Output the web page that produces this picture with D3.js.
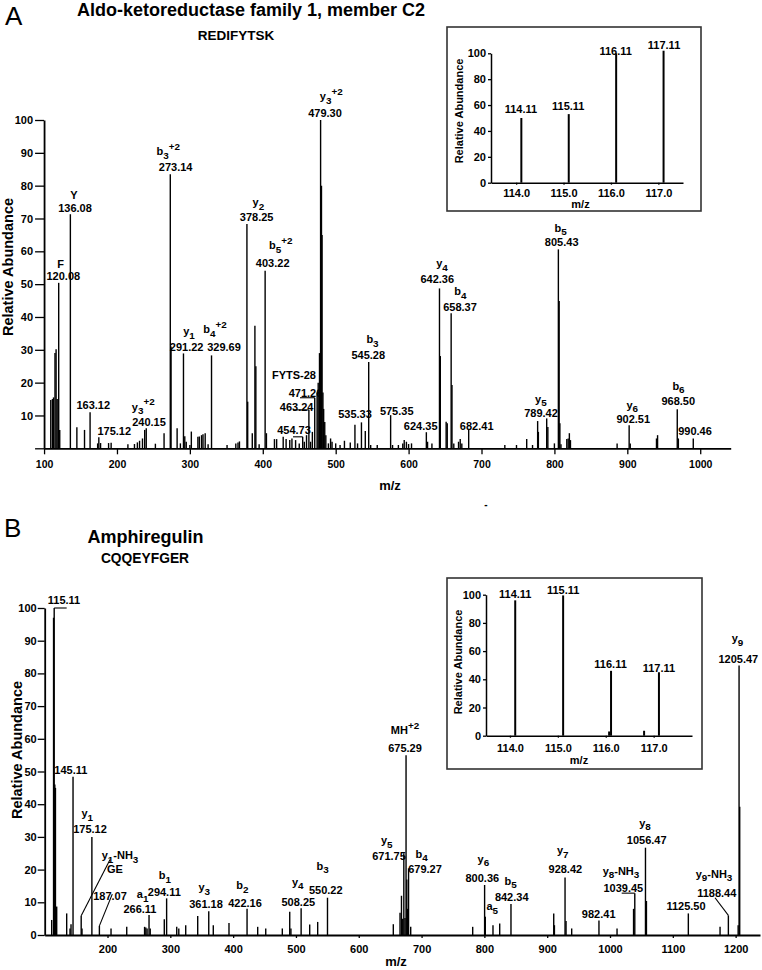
<!DOCTYPE html>
<html><head><meta charset="utf-8">
<script src="https://cdn.jsdelivr.net/npm/d3@7"></script>
<style>body{margin:0;background:#fff}svg{display:block}text{font-family:"Liberation Sans",Arial,Helvetica,sans-serif;}</style>
</head><body><svg id="c" width="762" height="970"></svg>
<script>
// ---------------- DATA ----------------
// Panel A: Aldo-ketoreductase family 1, member C2 (REDIFYTSK)
const topMz = [109.2,111.5,113.0,115.0,116.5,118.0,120.08,121.5,136.08,145,155.5,163.12,173.5,175.12,177.5,188.5,192,215,224,228,231,235,238,240.15,252.7,264.6,273.14,274.2,282.5,287,291.22,293,295,300,302,311,313,316,318,321,325,329.69,351,363,366,368,378.25,379.3,385.6,389.2,390.5,395,403.22,405,416,419,428,432,437,440,445,450,454.73,457,460,463.24,465.5,468,471.26,474.5,476,477.8,479.3,480.5,481.3,482.5,483.5,485,486.5,490,493,495,500,506,512,520,526.4,530,535.33,540.6,545.28,548,557,575.35,578,586,592,594,597,600,604,624.35,626,632,642.36,643.5,651.5,653,658.37,659.5,662,668.5,670.8,673,682.41,732,748,762,770,777,778,789.42,791,800,805.43,806.5,807.5,809,817,818.9,820.5,822,886,902.51,904,940,941.5,968.50,970,990.46];
const topInt = [14.7,15,15.5,29,30.2,15,50.4,5.6,71.3,6.4,5.6,11,1.5,3.4,1.6,1.6,1.7,1.2,1.3,1.8,2.3,3,5.6,6.1,1.4,4.6,83.5,31,6.1,1.5,28.9,3.7,2,1,5.1,3.5,3.6,4,4.3,4.6,1.2,28.3,1,1.5,1.8,2.1,68.3,14.2,4.6,37.3,25,1.2,54.1,4.6,2.8,2.8,3.5,2.8,2.5,3,2.5,1.5,3.5,2,4,11.7,2,5,15.4,17,20,29,100,80,65,17,12,8,4,1.5,3,2,1.5,1,2.3,1.8,7.2,1.5,7.9,5.3,26.3,1,1,10.1,1,1,1.5,2.5,2,1.3,1.5,4.9,2,1.5,48.7,28.1,8.1,7.6,41.1,19.3,1.5,2,2.8,1.5,5.6,1,1,2.8,1,8.3,5,9.1,6.5,1.5,60.6,44.9,7.6,1.2,2.8,3,4.6,2.5,1.5,7,1.5,3,4,11.9,3,3];
// annotation text, anchored at [m/z, relative abundance]
const topLabels = [["F",122.8,54.8],["120.08",126.4,51.3],["Y",141.1,75.9],["136.08",142.4,72.1],["163.12",167.5,11.9],["175.12",196.3,4.1],["y_3^+2",236.1,11.4],["240.15",243.9,6.8],["b_3^+2",270.5,89.2],["273.14",280.5,84.6],["y_1",298.8,34.4],["291.22",295.6,29.7],["b_4^+2",334.5,35],["329.69",346.8,29.7],["y_2",393.9,73.8],["378.25",391.6,69.3],["b_5^+2",424.7,60.6],["403.22",413.6,55.1],["y_3^+2",494,106],["479.30",485.3,101],["FYTS-28",442.8,21.2],["471.26",458.6,15.7],["463.24",446.5,11.5],["454.73",442.8,4.4],["b_3",550.5,32],["545.28",544.7,27.2],["535.33",526.5,9.1],["575.35",583.7,10.1],["624.35",616.6,5.6],["y_4",645.8,55.1],["642.36",639.3,50.4],["b_4",671,46.6],["658.37",670.5,41.9],["682.41",693.4,5.6],["y_5",781.4,13.8],["789.42",781.6,9.6],["b_5",808.6,66],["805.43",810,61.6],["y_6",906.7,12],["902.51",908.2,7.8],["b_6",970.2,17.8],["968.50",969.9,13.2],["990.46",992.8,4.1]];
const topLeaders = [[[451,15.4],[471.26,15.4]],[[441.4,11.7],[463.24,11.7]],[[441.4,3.5],[454.73,3.5]]];
const topXTicks = [100,200,300,400,500,600,700,800,900,1000];
const topYTicks = [0,10,20,30,40,50,60,70,80,90,100];
const topInsetMz = [114.11,115.11,116.11,117.11];
const topInsetInt = [50,53,100,102];
const topInsetLabels = [["114.11",114.1,53.6],["115.11",115.1,56.2],["116.11",116.1,98.5],["117.11",117.12,103.1]];

// Panel B: Amphiregulin (CQQEYFGER)
const botMz = [111.1,114.11,115.11,116.11,117.11,119.1,135,140.3,141.9,145.11,158.09,159.4,175.12,187.07,205.6,230.6,259,261,263,266.11,268,290.4,294.11,310.2,313.5,324.5,343.6,361.18,368.4,393.4,422.16,439.1,451.9,478.3,490.1,492,508.25,521.9,534.6,550.22,655,665.7,668,670,671.75,673.6,675.29,676.5,677.5,679.27,682.7,781.4,800.36,801.5,813.7,824.4,842.34,910.4,911.5,928.42,930,939,982.41,1011.2,1037.5,1039.45,1056.47,1058,1124.7,1175.2,1188.44,1204,1205.47,1206.5];
const botInt = [4.6,97,100,46,45,8.7,6.6,2,3.3,48.4,5.9,2,30,2.8,2,2.5,2.5,2.3,2,6.1,2,4.8,11.2,2.5,2,3,5.8,7.3,3,3.7,8,2.5,2,2,7.1,2,8.2,3.2,4,11.4,3.3,6.8,12,5,25,5.2,55,17,8,20.4,2.5,2.5,15.3,5.6,3,3.5,9.5,6.6,3,17.6,4.3,2,4.4,2,8,12.8,26.7,10.4,6.6,2.5,6,3,82.4,39.2];
const botLabels = [["115.11",130.7,101.2],["145.11",141.6,49.2],["y_1",167.8,36],["175.12",172.1,31.1],["y_1-NH_3",219.9,23.1],["GE",211.9,18.9],["187.07",204,10.7],["a_1",256,11.2],["266.11",251.7,6.6],["b_1",291.5,17],["294.11",290.4,12],["y_3",354.1,13.4],["361.18",356.8,8.2],["b_2",414.6,14],["422.16",418.9,8.7],["y_4",502.8,15],["508.25",503.8,9],["b_3",542.6,19.9],["550.22",547.4,12.5],["MH^+2",673.6,61.4],["675.29",673.6,56.1],["y_5",644.5,27.7],["671.75",648.2,22.9],["b_4",700.2,23.7],["679.27",705.5,18.9],["y_6",798.3,22.1],["800.36",796.7,16.1],["b_5",841.9,15.3],["842.34",843.5,10.5],["a_5",812.6,7.6],["y_7",924.7,24.7],["928.42",928.9,18.9],["982.41",982,5.3],["y_8-NH_3",1017.5,18.5],["1039.45",1021.2,13.1],["y_8",1055.7,33.1],["1056.47",1058.4,27.7],["1125.50",1121,7.6],["y_9-NH_3",1165.6,17.5],["1188.44",1169.9,11.7],["y_9",1203,89.5],["1205.47",1204.3,83.3]];
const botLeaders = [[[115.11,100],[135,100]],[[204.1,23.1],[158.09,5.9]],[[207.6,12.5],[187.07,2.8]],[[1018.6,12.8],[1039.45,12.8]],[[1167.2,11.4],[1188.44,6]]];
const botXTicks = [200,300,400,500,600,700,800,900,1000,1100,1200];
const botYTicks = [0,10,20,30,40,50,60,70,80,90,100];
const botInsetMz = [114.11,115.11,116.07,116.11,116.8,117.11];
const botInsetInt = [96,99.5,3,46,3.5,45];
const botInsetLabels = [["114.11",114.11,97.4],["115.11",115.11,100.5],["116.11",116.1,47.7],["117.11",117.11,45.4]];

const insetXTicks = [114,115,116,117];
const insetYTicks = [0,20,40,60,80,100];

// ---------------- DRAWING ----------------
const svg = d3.select("#c");
svg.append("rect").attr("width",762).attr("height",970).attr("fill","#fff");

function richText(g, str, x, y, size) {
  const t = g.append("text").attr("x",x).attr("y",y).attr("text-anchor","middle")
    .attr("font-size",size).attr("font-weight","bold").attr("fill","#000");
  const re = /_(\d+)|\^([+\-]?\d+)|([^_^]+)/g;
  let m, off = 0;
  while ((m = re.exec(str))) {
    let target, txt, fs;
    if (m[1]) { target = 3.5; txt = m[1]; fs = size*0.9; }
    else if (m[2]) { target = -5.5; txt = m[2]; fs = size*0.9; }
    else { target = 0; txt = m[3]; fs = size; }
    t.append("tspan").attr("dy", target - off).attr("font-size", fs).text(txt);
    off = target;
  }
}

function styleAxis(g, fs) {
  g.attr("font-family", null).attr("font-size", null);
  g.selectAll("text").attr("font-size", fs).attr("font-weight","bold").attr("fill","#000");
  g.selectAll("path,line").attr("stroke","#000");
  g.select(".domain").attr("stroke-width",1.8);
  g.selectAll(".tick line").attr("stroke-width",1.3);
}

function spectrum(c) {
  const x = d3.scaleLinear().domain(c.xDomain).range(c.xRange);
  const y = d3.scaleLinear().domain([0,100]).range(c.yRange);
  const g = svg.append("g");
  c.labels.forEach(([t,mz,v]) => richText(g, t, x(mz), y(v), 11));
  g.selectAll("path.ld").data(c.leaders).join("path").attr("class","ld")
    .attr("d", d => d3.line()(d.map(p => [x(p[0]), y(p[1])])))
    .attr("fill","none").attr("stroke","#000").attr("stroke-width",1.1);
  g.selectAll("line.pk").data(d3.zip(c.mz, c.int)).join("line").attr("class","pk")
    .attr("x1", d => x(d[0])).attr("x2", d => x(d[0]))
    .attr("y1", y(0)).attr("y2", d => y(d[1]))
    .attr("stroke","#000").attr("stroke-width",1.4);
  const ya = g.append("g").attr("transform",`translate(${c.xRange[0]},0)`)
    .call(d3.axisLeft(y).tickValues(c.yTicks).tickSize(c.yTickSize).tickPadding(c.yPad).tickSizeOuter(0)
      .tickFormat(d => (d === 0 && !c.showZero) ? "" : d));
  styleAxis(ya, 11);
  const xa = g.append("g").attr("transform",`translate(0,${y(0)})`)
    .call(d3.axisBottom(x).tickValues(c.xTicks).tickSize(c.xTickSize).tickPadding(c.xPad).tickSizeOuter(0).tickFormat(d3.format("d")));
  styleAxis(xa, c.xFont);
  g.append("text").attr("transform",`translate(${c.yTitle[0]},${c.yTitle[1]}) rotate(-90)`)
    .attr("text-anchor","middle").attr("font-size",14.5).attr("font-weight","bold").text("Relative Abundance");
  g.append("text").attr("x",c.xTitle[0]).attr("y",c.xTitle[1]).attr("text-anchor","middle")
    .attr("font-size",13).attr("font-weight","bold").text("m/z");
}

function inset(c) {
  const g = svg.append("g");
  g.append("rect").attr("x",c.box[0]).attr("y",c.box[1]).attr("width",c.box[2]).attr("height",c.box[3])
    .attr("fill","#fff").attr("stroke","#333").attr("stroke-width",1.6);
  const x = d3.scaleLinear().domain(c.xDomain).range(c.xRange);
  const y = d3.scaleLinear().domain([0,100]).range(c.yRange);
  c.labels.forEach(([t,mz,v]) => richText(g, t, x(mz), y(v), 11));
  g.selectAll("line.pk").data(d3.zip(c.mz, c.int)).join("line").attr("class","pk")
    .attr("x1", d => x(d[0])).attr("x2", d => x(d[0]))
    .attr("y1", y(0)).attr("y2", d => y(d[1]))
    .attr("stroke","#000").attr("stroke-width",2);
  const ya = g.append("g").attr("transform",`translate(${c.xRange[0]},0)`)
    .call(d3.axisLeft(y).tickValues(insetYTicks).tickSize(3).tickPadding(2).tickSizeOuter(0));
  styleAxis(ya, 11);
  ya.select(".domain").attr("stroke-width",1.5);
  const xa = g.append("g").attr("transform",`translate(0,${y(0)})`)
    .call(d3.axisBottom(x).tickValues(insetXTicks).tickSize(2).tickPadding(c.xPad).tickSizeOuter(0).tickFormat(d3.format(".1f")));
  styleAxis(xa, 11);
  xa.select(".domain").attr("stroke-width",1.5);
  g.append("text").attr("transform",`translate(${c.yTitle[0]},${c.yTitle[1]}) rotate(-90)`)
    .attr("text-anchor","middle").attr("font-size",11).attr("font-weight","bold").text("Relative Abundance");
  g.append("text").attr("x",c.xTitle[0]).attr("y",c.xTitle[1]).attr("text-anchor","middle")
    .attr("font-size",11).attr("font-weight","bold").text("m/z");
}

// Panel A
spectrum({xDomain:[100,1041.8], xRange:[44.06,730.7], yRange:[448.3,120],
  mz:topMz, int:topInt, labels:topLabels, leaders:topLeaders,
  xTicks:topXTicks, yTicks:topYTicks, yTickSize:9, yPad:2, showZero:false,
  xTickSize:6, xPad:6, xFont:10.5, yTitle:[13.3,267], xTitle:[390,490]});
inset({box:[447,27,254,184], xDomain:[113.47,117.52], xRange:[491,683], yRange:[182.7,53.3],
  mz:topInsetMz, int:topInsetInt, labels:topInsetLabels, xPad:4.5, yTitle:[463.3,111], xTitle:[580.5,208]});

// Panel B
spectrum({xDomain:[100,1238.8], xRange:[44.7,760], yRange:[935,608],
  mz:botMz, int:botInt, labels:botLabels, leaders:botLeaders,
  xTicks:botXTicks, yTicks:botYTicks, yTickSize:7, yPad:1, showZero:true,
  xTickSize:3, xPad:7, xFont:11, yTitle:[21.7,750], xTitle:[396,966]});
inset({box:[447,578,255,191], xDomain:[113.5,117.8], xRange:[486,692], yRange:[735.7,594.7],
  mz:botInsetMz, int:botInsetInt, labels:botInsetLabels, xPad:6.5, yTitle:[462.3,662], xTitle:[579,764]});

// Titles and panel letters
svg.append("text").attr("x",5).attr("y",25).attr("font-size",26).text("A");
svg.append("text").attr("x",4).attr("y",537).attr("font-size",26).text("B");
svg.append("text").attr("x",251).attr("y",16).attr("text-anchor","middle").attr("font-size",18).attr("font-weight","bold").text("Aldo-ketoreductase family 1, member C2");
svg.append("text").attr("x",236).attr("y",40).attr("text-anchor","middle").attr("font-size",13.5).attr("font-weight","bold").text("REDIFYTSK");
svg.append("text").attr("x",145.5).attr("y",543).attr("text-anchor","middle").attr("font-size",18).attr("font-weight","bold").text("Amphiregulin");
svg.append("text").attr("x",145).attr("y",563).attr("text-anchor","middle").attr("font-size",13.8).attr("font-weight","bold").text("CQQEYFGER");
svg.append("text").attr("x",486).attr("y",508).attr("text-anchor","middle").attr("font-size",10).attr("font-weight","bold").text("-");
</script></body></html>
